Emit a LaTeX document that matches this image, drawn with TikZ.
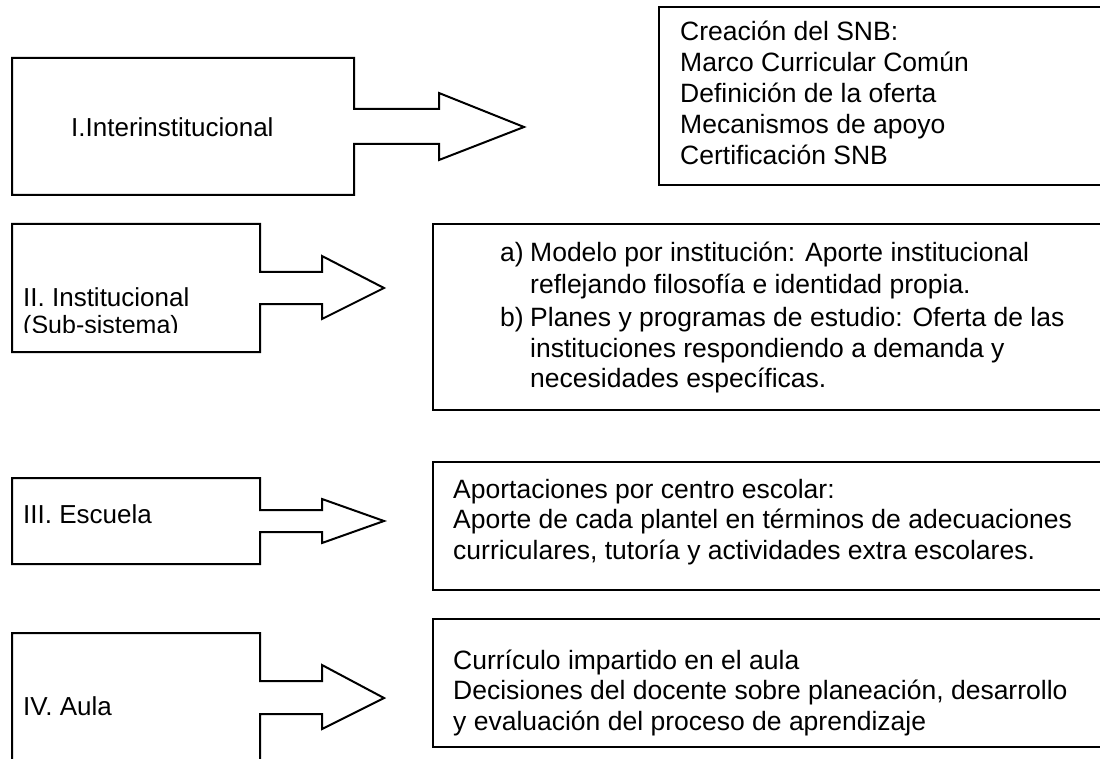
\documentclass[tikz,border=0pt]{standalone}
\usepackage{fontspec}
\setmainfont{Liberation Sans}
\begin{document}
\begin{tikzpicture}[x=1pt,y=-1pt,
  outl/.style={draw=black,line width=2pt,line join=miter},
  lab/.style={anchor=base west,inner sep=0pt,font=\fontsize{26}{30}\selectfont},
  rt/.style={anchor=base west,inner sep=0pt,font=\fontsize{26.5}{31}\selectfont}]
\useasboundingbox (0,0) rectangle (1100,759);
\fill[white] (0,0) rectangle (1100,759);
\clip (0,0) rectangle (1100,759);
% left block-arrows
\draw[outl] (12,58) -- (354,58) -- (354,109) -- (439,109) -- (439,93) -- (524,127) -- (439,160) -- (439,144) -- (354,144) -- (354,195) -- (12,195) -- cycle;
\draw[outl] (12,224) -- (260,224) -- (260,272) -- (322,272) -- (322,256) -- (384,288) -- (322,319) -- (322,304) -- (260,304) -- (260,352) -- (12,352) -- cycle;
\draw[outl] (12,478) -- (260,478) -- (260,510) -- (322,510) -- (322,499) -- (384,521) -- (322,543) -- (322,532) -- (260,532) -- (260,564) -- (12,564) -- cycle;
\draw[outl] (12,790) -- (12,633) -- (260,633) -- (260,681) -- (322,681) -- (322,665) -- (384,698) -- (322,729) -- (322,714) -- (260,714) -- (260,790);
% right boxes
\draw[outl] (659,7) rectangle (1120,185);
\draw[outl] (433,224) rectangle (1120,410);
\draw[outl] (433,462) rectangle (1120,590);
\draw[outl] (433,619) rectangle (1120,747);
% left labels
\node[lab] (l1) at (71,137) {I.Interinstitucional};
\node[lab] (l2) at (23,306) {II. Institucional};
\begin{scope}
\clip (14,310) rectangle (258,332);
\node[lab,font=\fontsize{25}{28}\selectfont] (l2b) at (23,334) {(Sub-sistema)};
\end{scope}
\node[lab] (l3) at (23,523) {III. Escuela};
\node[lab] (l4) at (23,715) {IV. Aula};
% box 1
\node[rt] (r1a) at (680,41) {Creación del SNB:};
\node[rt] (r1b) at (680,72) {Marco Curricular Común};
\node[rt] (r1c) at (680,103) {Definición de la oferta};
\node[rt] (r1d) at (680,134) {Mecanismos de apoyo};
\node[rt] (r1e) at (680,165) {Certificación SNB};
% box 2
\node[rt] (r2a) at (500,262) {a)};
\node[rt] (r2b) at (530,262) {Modelo por institución: Aporte institucional};
\node[rt] (r2c) at (530,294) {reflejando filosofía e identidad propia.};
\node[rt] (r2d) at (500,326) {b)};
\node[rt] (r2e) at (530,326) {Planes y programas de estudio: Oferta de las};
\node[rt] (r2f) at (530,357) {instituciones respondiendo a demanda y};
\node[rt] (r2g) at (530,387) {necesidades específicas.};
% box 3
\node[rt] (r3a) at (453,498) {Aportaciones por centro escolar:};
\node[rt] (r3b) at (453,528) {Aporte de cada plantel en términos de adecuaciones};
\node[rt] (r3c) at (453,559) {curriculares, tutoría y actividades extra escolares.};
% box 4
\node[rt] (r4a) at (453,669) {Currículo impartido en el aula};
\node[rt] (r4b) at (453,699) {Decisiones del docente sobre planeación, desarrollo};
\node[rt] (r4c) at (453,730) {y evaluación del proceso de aprendizaje};
\end{tikzpicture}
\end{document}
